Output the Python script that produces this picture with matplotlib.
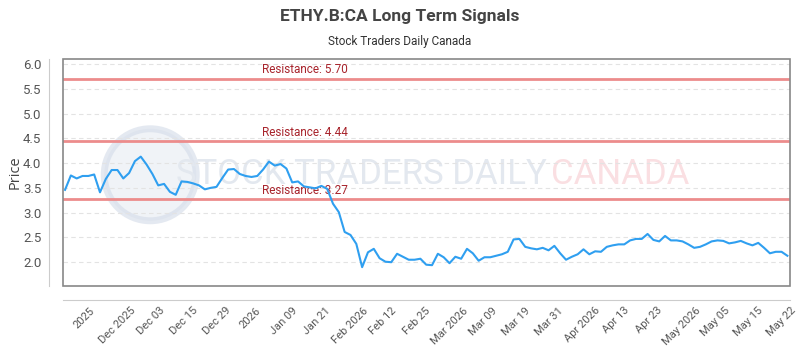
import numpy as np
import matplotlib
matplotlib.use("Agg")
import matplotlib.pyplot as plt
from matplotlib.patches import Rectangle, Ellipse

# данные графика
prices = [3.46, 3.75, 3.69, 3.74, 3.74, 3.77, 3.41, 3.68, 3.86, 3.86,
          3.69, 3.80, 4.04, 4.13, 3.97, 3.78, 3.55, 3.58, 3.42, 3.36,
          3.63, 3.62, 3.59, 3.55, 3.47, 3.50, 3.52, 3.70, 3.87, 3.88,
          3.78, 3.74, 3.72, 3.74, 3.87, 4.03, 3.95, 3.98, 3.89, 3.61,
          3.63, 3.53, 3.51, 3.49, 3.54, 3.48, 3.18, 3.01, 2.61, 2.55,
          2.37, 1.90, 2.20, 2.27, 2.08, 2.01, 2.00, 2.17, 2.11, 2.05,
          2.05, 2.07, 1.95, 1.94, 2.17, 2.10, 1.98, 2.11, 2.07, 2.27,
          2.18, 2.03, 2.10, 2.10, 2.13, 2.16, 2.21, 2.46, 2.47, 2.31,
          2.28, 2.26, 2.29, 2.24, 2.33, 2.18, 2.05, 2.11, 2.16, 2.26,
          2.16, 2.22, 2.21, 2.31, 2.34, 2.36, 2.36, 2.44, 2.47, 2.47,
          2.57, 2.45, 2.42, 2.53, 2.44, 2.44, 2.42, 2.36, 2.29, 2.31,
          2.36, 2.42, 2.44, 2.43, 2.38, 2.40, 2.43, 2.38, 2.34, 2.39,
          2.29, 2.18, 2.21, 2.21, 2.13]

tick_labels = ["2025", "Dec 2025", "Dec 03", "Dec 15", "Dec 29", "2026",
               "Jan 09", "Jan 21", "Feb 2026", "Feb 12", "Feb 25", "Mar 2026",
               "Mar 09", "Mar 19", "Mar 31", "Apr 2026", "Apr 13", "Apr 23",
               "May 2026", "May 05", "May 15", "May 22"]

resistance = [5.70, 4.44, 3.27]

# шрифт
plt.rcParams['font.family'] = ['Roboto', 'DejaVu Sans']

fig = plt.figure(figsize=(8, 3.5), dpi=100)
fig.patch.set_facecolor('white')
ax = fig.add_axes([63 / 800, 1 - 286 / 350, 727 / 800, 227 / 350])

x = np.arange(len(prices))

# водяной знак (логотип + надпись)
ax.add_patch(Ellipse((0.12, 0.49), 92 / 727, 92 / 227, transform=ax.transAxes,
                     facecolor='#e6ebf3', edgecolor='#d3dbe8', lw=5, alpha=0.6, zorder=0))
ax.text(0.41, 0.49, "STOCK TRADERS DAILY", transform=ax.transAxes, fontsize=25,
        color='#e3e8ef', ha='center', va='center', zorder=0)
ax.text(0.767, 0.49, "CANADA", transform=ax.transAxes, fontsize=25,
        color='#fadfe2', ha='center', va='center', zorder=0)

# линии сопротивления
for r in resistance:
    ax.axhline(r, color='#ec8c8c', lw=2, zorder=2)
    ax.text(33.8, r + 0.05, f"Resistance: {r:.2f}", color='#a8242c', fontsize=8.5,
            ha='left', va='bottom', zorder=3)

ax.plot(x, prices, color='#2f9ff0', lw=1.5, zorder=4)

ax.set_xlim(-0.35, len(prices) - 1 + 0.45)
ax.set_ylim(1.52, 6.1)
yt = np.arange(2.0, 6.01, 0.5)
ax.set_yticks(yt)
ax.set_yticklabels([f"{v:.1f}" for v in yt])
ax.grid(axis='y', color='#e3e3e3', linestyle=(0, (4, 3)), lw=0.8)
ax.set_axisbelow(True)

ticks = np.linspace(3.3, 123.0, len(tick_labels))
ax.set_xticks(ticks)
ax.set_xticklabels(tick_labels)

ax.tick_params(axis='both', length=0, colors='#555555')
ax.tick_params(axis='y', labelsize=9.5, pad=5.5)
ax.tick_params(axis='x', labelsize=8, pad=4, labelrotation=45)
for lbl in ax.get_xticklabels():
    lbl.set_ha('right')
    lbl.set_va('top')
    lbl.set_rotation_mode('anchor')
for lbl in ax.get_yticklabels() + ax.get_xticklabels():
    lbl.set_family(['Open Sans', 'DejaVu Sans'])

ax.set_ylabel("Price", fontsize=10.5, color='#444444',
              family=['Open Sans', 'DejaVu Sans'])
ax.yaxis.set_label_coords(-0.055, 0.5)

for s in ['top', 'right']:
    ax.spines[s].set_visible(False)
for s in ['left', 'bottom']:
    ax.spines[s].set_position(('outward', 10))
    ax.spines[s].set_color('#cccccc')

# рамка области графика
ax.add_patch(Rectangle((0, 0), 1, 1, transform=ax.transAxes, fill=False,
                       edgecolor='#888888', lw=1.2, clip_on=False, zorder=5))

fig.text(0.5, 1 - 16 / 350, "ETHY.B:CA Long Term Signals", ha='center', va='center',
         fontsize=12.5, fontweight='bold', color='#444444')
fig.text(0.5, 1 - 41 / 350, "Stock Traders Daily Canada", ha='center', va='center',
         fontsize=8.5, color='#333333')

fig.savefig("out.png", dpi=100, facecolor='white')
